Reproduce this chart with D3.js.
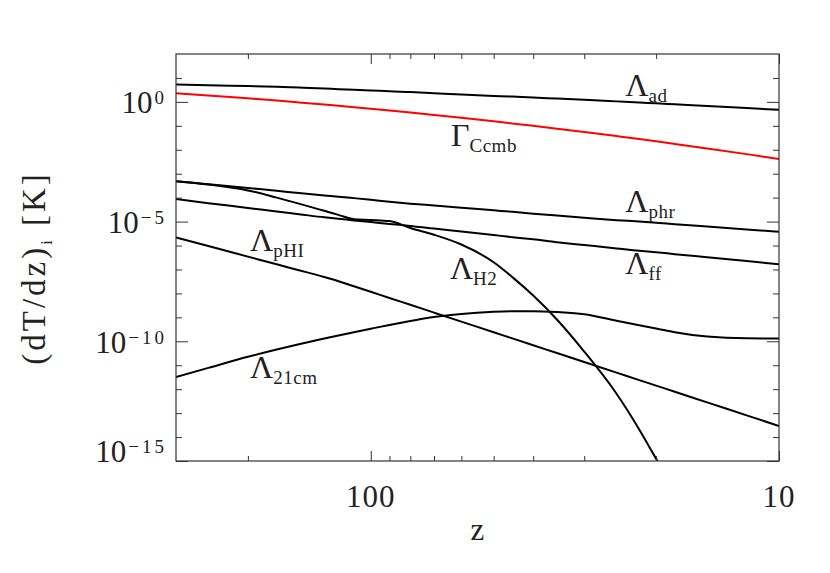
<!DOCTYPE html>
<html><head><meta charset="utf-8">
<script src="https://cdn.jsdelivr.net/npm/d3@7/dist/d3.min.js"></script>
<style>
html,body{margin:0;padding:0;background:#fff;}
svg{display:block;}
text{font-family:"Liberation Serif","DejaVu Serif",serif;fill:#222;}
</style></head><body>
<svg id="c" width="830" height="573"></svg>
<script>
// redshift grid (x axis, log, reversed)
const redshift = [300,250,200,170,150,130,120,110,100,90,80,70,60,50,45,40,35,30,25,22,20,18,15,12,10];

// heating / cooling terms (dT/dz)_i in K
const lambdaAd = [5.37,4.90,4.57,4.27,3.98,3.63,3.39,3.24,3.02,2.75,2.57,2.29,2.04,1.78,1.66,1.51,1.38,1.23,1.05,0.933,0.871,0.794,0.676,0.550,0.468];
const gammaCcmb = [2.29,1.86,1.41,1.135,0.953,0.774,0.687,0.601,0.518,0.437,0.358,0.284,0.216,0.154,0.1256,0.0998,0.0760,0.0552,0.0372,0.0280,0.0225,0.0176,0.0114,0.00658,0.00412];
const lambdaPhr = [4.90e-4,3.63e-4,2.51e-4,1.95e-4,1.55e-4,1.23e-4,1.10e-4,9.55e-5,8.13e-5,6.76e-5,5.62e-5,4.68e-5,3.80e-5,2.95e-5,2.57e-5,2.14e-5,1.78e-5,1.45e-5,1.15e-5,1.00e-5,8.91e-6,7.76e-6,6.17e-6,4.68e-6,3.80e-6];
const lambdaFf = [8.71e-5,5.89e-5,3.72e-5,2.63e-5,2.04e-5,1.51e-5,1.32e-5,1.12e-5,9.55e-6,7.94e-6,6.61e-6,5.13e-6,3.89e-6,2.75e-6,2.24e-6,1.82e-6,1.38e-6,1.05e-6,7.59e-7,6.03e-7,5.25e-7,4.37e-7,3.24e-7,2.24e-7,1.66e-7];
const lambdaH2 = [4.90e-4,3.55e-4,2.00e-4,1.00e-4,5.62e-5,2.82e-5,1.91e-5,1.26e-5,1.17e-5,1.05e-5,5.37e-6,2.82e-6,1.10e-6,2.00e-7,4.79e-8,8.13e-9,8.13e-10,3.72e-11,6.46e-13,2.09e-14,1.23e-15,5.01e-17,null,null,null];
const lambdaPHI = [2.17e-6,9.57e-7,3.45e-7,1.64e-7,9.33e-8,4.85e-8,3.24e-8,1.98e-8,1.17e-8,6.44e-9,3.35e-9,1.58e-9,6.65e-10,2.40e-10,1.32e-10,6.81e-11,3.24e-11,1.36e-11,4.93e-12,2.39e-12,1.41e-12,7.78e-13,2.81e-13,8.04e-14,2.90e-14];
const lambda21cm = [3.23e-12,7.74e-12,2.25e-11,4.54e-11,7.50e-11,1.30e-10,1.75e-10,2.40e-10,3.36e-10,4.84e-10,7.05e-10,1.035e-9,1.39e-9,1.71e-9,1.81e-9,1.82e-9,1.67e-9,1.36e-9,7.18e-10,4.66e-10,3.43e-10,2.38e-10,1.57e-10,1.33e-10,1.32e-10];

// ticks
const xMajorTicks = [100,10];
const xMajorLabels = ["100","10"];
const xMinorTicks = [200,90,80,70,60,50,40,30,20];
const yMajorTicks = [1e-15,1e-10,1e-5,1];
const yMajorExps = ["\u221215","\u221210","\u22125","0"];
const yMinorTicks = [1e-14,1e-13,1e-12,1e-11,1e-9,1e-8,1e-7,1e-6,1e-4,1e-3,1e-2,1e-1,1e1];

// curve labels (symbol, subscript, anchor z, anchor value)
const labelSym = ["\u039B","\u0393","\u039B","\u039B","\u039B","\u039B","\u039B"];
const labelSub = ["ad","Ccmb","phr","ff","H2","pHI","21cm"];
const labelZ   = [23.8,63.6,23.8,23.8,64.0,197.6,197.6];
const labelV   = [1.81,1.40e-2,2.59e-5,6.28e-8,3.89e-8,6.08e-7,3.01e-12];

const series = [
  {vals: lambdaAd, color:"#000"},
  {vals: gammaCcmb, color:"#ff0000"},
  {vals: lambdaPhr, color:"#000"},
  {vals: lambdaFf, color:"#000"},
  {vals: lambdaH2, color:"#000"},
  {vals: lambdaPHI, color:"#000"},
  {vals: lambda21cm, color:"#000"}
];

const L = 176, R = 779, T = 54, B = 461;
const svg = d3.select("#c");
const x = d3.scaleLog().domain([300,10]).range([L,R]);
const y = d3.scaleLog().domain([1e-15,1e2]).range([B,T]);

svg.append("defs").append("clipPath").attr("id","clip")
  .append("rect").attr("x",L).attr("y",T).attr("width",R-L).attr("height",B-T);

const line = d3.line()
  .defined(d => d[1] != null)
  .x(d => x(d[0])).y(d => y(d[1]))
  .curve(d3.curveMonotoneX);

const lg = svg.append("g").attr("clip-path","url(#clip)");
series.forEach(s => {
  lg.append("path")
    .datum(redshift.map((z,i) => [z, s.vals[i]]))
    .attr("d", line)
    .attr("fill","none")
    .attr("stroke", s.color)
    .attr("stroke-width", 2);
});

// axes ticks (inward)
function styleAxis(g){
  g.select(".domain").remove();
  g.selectAll(".tick line").attr("stroke","#333").attr("stroke-width",1);
  g.selectAll(".tick text").remove();
}
svg.append("g").attr("transform",`translate(0,${B})`).call(d3.axisBottom(x).tickValues(xMajorTicks).tickSize(-10).tickFormat("")).call(styleAxis);
svg.append("g").attr("transform",`translate(0,${B})`).call(d3.axisBottom(x).tickValues(xMinorTicks).tickSize(-5).tickFormat("")).call(styleAxis);
svg.append("g").attr("transform",`translate(0,${T})`).call(d3.axisTop(x).tickValues(xMajorTicks).tickSize(-10).tickFormat("")).call(styleAxis);
svg.append("g").attr("transform",`translate(0,${T})`).call(d3.axisTop(x).tickValues(xMinorTicks).tickSize(-5).tickFormat("")).call(styleAxis);
svg.append("g").attr("transform",`translate(${L},0)`).call(d3.axisLeft(y).tickValues(yMajorTicks).tickSize(-12).tickFormat("")).call(styleAxis);
svg.append("g").attr("transform",`translate(${L},0)`).call(d3.axisLeft(y).tickValues(yMinorTicks).tickSize(-6).tickFormat("")).call(styleAxis);
svg.append("g").attr("transform",`translate(${R},0)`).call(d3.axisRight(y).tickValues(yMajorTicks).tickSize(-12).tickFormat("")).call(styleAxis);
svg.append("g").attr("transform",`translate(${R},0)`).call(d3.axisRight(y).tickValues(yMinorTicks).tickSize(-6).tickFormat("")).call(styleAxis);

// frame
svg.append("rect").attr("x",L).attr("y",T).attr("width",R-L).attr("height",B-T)
  .attr("fill","none").attr("stroke","#333").attr("stroke-width",1.2);

// y tick labels
yMajorTicks.forEach((v,i) => {
  const t = svg.append("text")
    .attr("x", 167)
    .attr("y", Math.min(y(v) + 11.5, B + 1))
    .attr("text-anchor","end")
    .style("font-size","31px");
  t.append("tspan").text("10");
  t.append("tspan").attr("dx",2).attr("dy",-9).style("font-size","19px").style("letter-spacing","3px").text(yMajorExps[i]);
});

// x tick labels
xMajorTicks.forEach((v,i) => {
  svg.append("text").attr("x", x(v)).attr("y", 507)
    .attr("text-anchor","middle").style("font-size","31px").style("letter-spacing","1px")
    .text(xMajorLabels[i]);
});

// axis titles
svg.append("text").attr("x", (L+R)/2).attr("y", 540).attr("text-anchor","middle")
  .style("font-size","31px").text("z");

const yt = svg.append("text").attr("transform","translate(45,268) rotate(-90)")
  .attr("text-anchor","middle").style("font-size","33px").style("letter-spacing","3px");
yt.append("tspan").text("(dT/dz)");
yt.append("tspan").attr("dy",7).style("font-size","16px").text("i");
yt.append("tspan").attr("dy",-7).text(" [K]");

// curve labels
labelSym.forEach((s,i) => {
  const t = svg.append("text").attr("x", x(labelZ[i])).attr("y", y(labelV[i]))
    .style("font-size","32px");
  t.append("tspan").text(s);
  t.append("tspan").attr("dy",6).style("font-size","19px").style("letter-spacing","0.5px").text(labelSub[i]);
});
</script>
</body></html>
